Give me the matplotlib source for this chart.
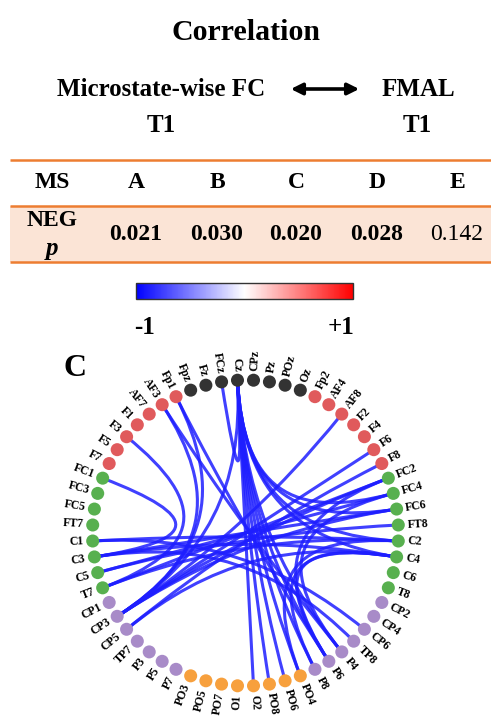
import numpy as np
import matplotlib
matplotlib.use("Agg")
import matplotlib.pyplot as plt
from matplotlib.path import Path
from matplotlib.patches import PathPatch
from matplotlib import colors as mcolors, cm

plt.rcParams['font.family'] = ['Liberation Serif', 'DejaVu Serif']

# ---- table data ----
ms_states = ["A", "B", "C", "D", "E"]
neg_p = [0.021, 0.030, 0.020, 0.028, 0.142]
alpha_level = 0.05

# ---- electrode montage, clockwise from the top (CPz) ----
channels = ["CPz", "Pz", "POz", "Oz",
            "Fp2", "AF4", "AF8", "F2", "F4", "F6", "F8",
            "FC2", "FC4", "FC6", "FT8", "C2", "C4", "C6", "T8",
            "CP2", "CP4", "CP6", "TP8", "P4", "P6", "P8",
            "PO4", "PO6", "PO8", "O2",
            "O1", "PO7", "PO5", "PO3",
            "P7", "P5", "P3", "TP7", "CP5", "CP3", "CP1",
            "T7", "C5", "C3", "C1", "FT7", "FC5", "FC3", "FC1",
            "F7", "F5", "F3", "F1", "AF7", "AF3", "Fp1",
            "Fpz", "Fz", "FCz", "Cz"]
regions = (["mid"] * 4 + ["front"] * 7 + ["central"] * 8 + ["parietal"] * 7 +
           ["occipital"] * 4 + ["occipital"] * 4 + ["parietal"] * 7 +
           ["central"] * 8 + ["front"] * 7 + ["mid"] * 4)
region_colors = {"mid": "#333333", "front": "#E05A5C", "central": "#58B04F",
                 "parietal": "#A88BC8", "occipital": "#F7A03D"}

# significant negative FC edges (channel pairs)
edges = [("FCz", "Cz"), ("Cz", "O2"), ("Cz", "PO8"), ("Cz", "PO6"),
         ("Cz", "PO4"), ("Cz", "P8"), ("Cz", "P6"), ("Cz", "P4"),
         ("Cz", "C2"), ("Cz", "C4"), ("Cz", "FC4"), ("Cz", "FC6"),
         ("Cz", "CP3"), ("Fp1", "CP3"), ("Fp1", "P6"), ("AF3", "CP3"),
         ("AF3", "P4"), ("F3", "T7"), ("FC1", "C3"), ("C1", "C2"),
         ("C1", "CP6"), ("C3", "TP8"), ("C3", "FC6"), ("C3", "C4"),
         ("C5", "FC4"), ("C5", "FT8"), ("T7", "FC2"), ("T7", "C2"),
         ("CP3", "AF8"), ("CP3", "F6"), ("CP3", "FC2"), ("CP3", "FC6"),
         ("CP5", "F8"), ("CP5", "C4"), ("FC2", "P6"), ("FC4", "P4"),
         ("C4", "P8"), ("C2", "PO4"), ("C4", "P6")]
edge_r = -0.88

W, H = 491, 719
fig = plt.figure(figsize=(W / 100, H / 100), dpi=100)
ax = fig.add_axes([0, 0, 1, 1])
ax.set_xlim(0, W)
ax.set_ylim(H, 0)
ax.axis("off")

# ---- heading ----
ax.text(246, 33, "Correlation", ha="center", va="center", fontsize=21.5, fontweight="bold")
ax.text(161, 89, "Microstate-wise FC", ha="center", va="center", fontsize=18, fontweight="bold")
ax.text(418, 89, "FMAL", ha="center", va="center", fontsize=18, fontweight="bold")
ax.text(161, 125, "T1", ha="center", va="center", fontsize=18, fontweight="bold")
ax.text(417, 125, "T1", ha="center", va="center", fontsize=18, fontweight="bold")
ax.annotate("", xy=(362, 89), xytext=(288, 89),
            arrowprops=dict(arrowstyle="<|-|>", lw=2.6, color="black", mutation_scale=17))

# ---- table ----
orange = "#ED7D31"
ax.fill_between([10, W], 206, 262, color="#FBE4D6", lw=0)
for yy in (160, 206, 262):
    ax.plot([10, W], [yy, yy], color=orange, lw=1.8, solid_capstyle="butt")
col_x = [52, 136, 217, 296, 377, 457]
ax.text(col_x[0], 183, "MS", ha="center", va="center", fontsize=17, fontweight="bold")
for x, s in zip(col_x[1:], ms_states):
    ax.text(x, 183, s, ha="center", va="center", fontsize=17, fontweight="bold")
ax.text(col_x[0], 221, "NEG", ha="center", va="center", fontsize=17, fontweight="bold")
ax.text(col_x[0], 248, "p", ha="center", va="center", fontsize=18, fontweight="bold", style="italic")
for x, p in zip(col_x[1:], neg_p):
    ax.text(x, 235, f"{p:.3f}", ha="center", va="center", fontsize=17,
            fontweight="bold" if p < alpha_level else "normal")

# ---- colour bar ----
cmap = plt.get_cmap("bwr")
norm = mcolors.Normalize(-1, 1)
cax = fig.add_axes([136 / W, 1 - 299 / H, 217 / W, 16 / H])
cb = fig.colorbar(cm.ScalarMappable(norm=norm, cmap=cmap), cax=cax, orientation="horizontal")
cb.set_ticks([])
cb.outline.set_edgecolor("#333333")
cb.outline.set_linewidth(1.0)
ax.text(145, 327, "-1", ha="center", va="center", fontsize=18, fontweight="bold")
ax.text(341, 327, "+1", ha="center", va="center", fontsize=18, fontweight="bold")

ax.text(75, 369, "C", ha="center", va="center", fontsize=23, fontweight="bold")

# ---- connectivity circle ----
cx, cy, R = 245.5, 533, 153
ang = np.deg2rad(87 - 6 * np.arange(len(channels)))
pos = {ch: np.array([cx + R * np.cos(a), cy - R * np.sin(a)]) for ch, a in zip(channels, ang)}
centre = np.array([cx, cy])
pull = 0.3
ecol = cmap(norm(edge_r))
for a, b in edges:
    p0, p3 = pos[a], pos[b]
    p1 = centre + pull * (p0 - centre)
    p2 = centre + pull * (p3 - centre)
    path = Path([p0, p1, p2, p3], [Path.MOVETO, Path.CURVE4, Path.CURVE4, Path.CURVE4])
    ax.add_patch(PathPatch(path, fc="none", ec=ecol, lw=2.2, alpha=0.85,
                           capstyle="round", zorder=2))

xs = [pos[c][0] for c in channels]
ys = [pos[c][1] for c in channels]
ax.scatter(xs, ys, s=88, c=[region_colors[r] for r in regions], zorder=3, lw=0)

for ch, a in zip(channels, ang):
    deg = np.rad2deg(a)
    lx = cx + (R + 9) * np.cos(a)
    ly = cy - (R + 9) * np.sin(a)
    if np.cos(a) >= 0:
        rot, ha = deg, "left"
    else:
        rot, ha = deg - 180, "right"
    ax.text(lx, ly, ch, rotation=rot, rotation_mode="anchor", ha=ha, va="center",
            fontsize=8.5, fontweight="bold")

fig.savefig("out.png", dpi=100)
